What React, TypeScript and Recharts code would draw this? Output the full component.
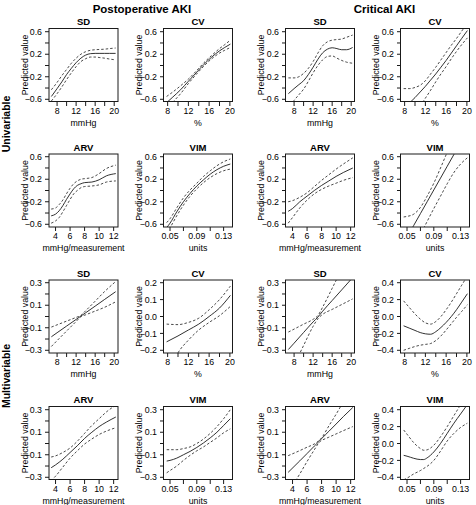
import React from 'react';
import { LineChart, Line, XAxis, YAxis } from 'recharts';

const FONT = '"Liberation Sans", Arial, Helvetica, sans-serif';
const INK = '#1a1a1a';

// ---------- Postoperative AKI, univariable ----------
const puSD_x = [6.8, 8, 9, 10, 11, 12, 13, 14, 15, 16, 17, 18, 19, 20.3];
const puSD_fit = [-0.55, -0.41, -0.29, -0.16, -0.05, 0.05, 0.13, 0.185, 0.21, 0.215, 0.215, 0.215, 0.215, 0.215];
const puSD_hi = [-0.43, -0.3, -0.18, -0.07, 0.04, 0.13, 0.2, 0.245, 0.27, 0.28, 0.285, 0.29, 0.3, 0.31];
const puSD_lo = [-0.63, -0.5, -0.38, -0.25, -0.13, -0.02, 0.07, 0.12, 0.15, 0.15, 0.14, 0.13, 0.115, 0.1];

const puCV_x = [7.8, 9, 10.5, 12, 13.5, 15, 16.5, 18, 19, 20.1];
const puCV_fit = [-0.66, -0.56, -0.43, -0.28, -0.13, 0.02, 0.15, 0.26, 0.32, 0.38];
const puCV_hi = [-0.55, -0.47, -0.36, -0.24, -0.1, 0.05, 0.18, 0.3, 0.37, 0.45];
const puCV_lo = [-0.77, -0.65, -0.5, -0.32, -0.16, -0.01, 0.12, 0.22, 0.27, 0.32];

const puARV_x = [3.4, 4, 4.5, 5, 5.5, 6, 6.5, 7, 7.5, 8, 9, 10, 11, 12.3];
const puARV_fit = [-0.45, -0.42, -0.36, -0.27, -0.16, -0.06, 0.03, 0.09, 0.12, 0.14, 0.15, 0.19, 0.26, 0.3];
const puARV_hi = [-0.33, -0.31, -0.25, -0.17, -0.06, 0.04, 0.12, 0.17, 0.2, 0.21, 0.23, 0.3, 0.39, 0.45];
const puARV_lo = [-0.58, -0.54, -0.48, -0.38, -0.27, -0.16, -0.06, 0.0, 0.05, 0.07, 0.08, 0.1, 0.15, 0.17];

const puVIM_x = [0.045, 0.05, 0.06, 0.07, 0.08, 0.09, 0.1, 0.11, 0.12, 0.13, 0.14];
const puVIM_fit = [-0.66, -0.58, -0.38, -0.2, -0.05, 0.08, 0.19, 0.29, 0.37, 0.43, 0.47];
const puVIM_hi = [-0.57, -0.5, -0.31, -0.13, 0.01, 0.13, 0.25, 0.35, 0.44, 0.51, 0.56];
const puVIM_lo = [-0.75, -0.66, -0.45, -0.26, -0.1, 0.03, 0.14, 0.23, 0.3, 0.35, 0.38];

// ---------- Critical AKI, univariable ----------
const cuSD_x = [6.8, 8, 9, 10, 11, 12, 13, 14, 15, 16, 17, 18, 19, 20.3];
const cuSD_fit = [-0.5, -0.41, -0.34, -0.27, -0.16, -0.03, 0.11, 0.225, 0.29, 0.315, 0.3, 0.28, 0.28, 0.32];
const cuSD_hi = [-0.22, -0.22, -0.2, -0.14, -0.05, 0.07, 0.22, 0.35, 0.42, 0.45, 0.46, 0.47, 0.5, 0.54];
const cuSD_lo = [-0.78, -0.62, -0.52, -0.42, -0.28, -0.13, 0.0, 0.1, 0.16, 0.17, 0.13, 0.09, 0.06, 0.04];

const cuCV_x = [7.8, 9, 10, 11, 12, 13, 14, 15, 16, 17, 18, 19, 20.1];
const cuCV_fit = [-0.76, -0.66, -0.57, -0.47, -0.37, -0.26, -0.15, -0.03, 0.09, 0.22, 0.35, 0.48, 0.62];
const cuCV_hi = [-0.41, -0.41, -0.39, -0.35, -0.27, -0.15, -0.03, 0.1, 0.23, 0.36, 0.48, 0.61, 0.75];
const cuCV_lo = [-1.1, -0.96, -0.84, -0.72, -0.58, -0.44, -0.29, -0.15, -0.02, 0.12, 0.25, 0.37, 0.49];

const cuARV_x = [3.4, 4, 5, 6, 7, 8, 9, 10, 11, 12.3];
const cuARV_fit = [-0.37, -0.32, -0.2, -0.1, 0.0, 0.09, 0.17, 0.25, 0.32, 0.4];
const cuARV_hi = [-0.2, -0.18, -0.12, -0.04, 0.07, 0.18, 0.28, 0.38, 0.47, 0.58];
const cuARV_lo = [-0.58, -0.48, -0.31, -0.17, -0.06, 0.02, 0.08, 0.13, 0.18, 0.23];

const cuVIM_x = [0.045, 0.05, 0.06, 0.07, 0.08, 0.09, 0.1, 0.11, 0.12, 0.13, 0.14];
const cuVIM_fit = [-0.94, -0.83, -0.62, -0.41, -0.2, 0.01, 0.22, 0.43, 0.64, 0.85, 1.05];
const cuVIM_hi = [-0.47, -0.46, -0.42, -0.3, -0.1, 0.13, 0.4, 0.68, 0.95, 1.2, 1.45];
const cuVIM_lo = [-1.3, -1.2, -1.0, -0.78, -0.55, -0.32, -0.1, 0.12, 0.32, 0.47, 0.58];

// ---------- Postoperative AKI, multivariable ----------
const pmSD_x = [6.8, 8, 10, 12, 13, 14, 16, 18, 20.3];
const pmSD_fit = [-0.18, -0.144, -0.085, -0.026, 0.004, 0.033, 0.092, 0.152, 0.22];
const pmSD_hi = [-0.094, -0.074, -0.041, -0.008, 0.01, 0.051, 0.136, 0.222, 0.31];
const pmSD_lo = [-0.266, -0.214, -0.129, -0.044, -0.002, 0.015, 0.048, 0.082, 0.13];

const pmCV_x = [7.8, 10, 12, 14, 16, 18, 20.1];
const pmCV_fit = [-0.15, -0.115, -0.08, -0.045, 0.0, 0.05, 0.125];
const pmCV_hi = [-0.045, -0.048, -0.035, -0.01, 0.04, 0.1, 0.18];
const pmCV_lo = [-0.36, -0.215, -0.14, -0.08, -0.035, 0.005, 0.06];

const pmARV_x = [3.4, 4, 5, 6, 7, 8, 9, 10, 11, 12.3];
const pmARV_fit = [-0.215, -0.19, -0.14, -0.08, -0.02, 0.045, 0.1, 0.15, 0.19, 0.235];
const pmARV_hi = [-0.12, -0.11, -0.08, -0.04, 0.02, 0.09, 0.16, 0.22, 0.28, 0.34];
const pmARV_lo = [-0.33, -0.29, -0.21, -0.13, -0.065, -0.005, 0.04, 0.08, 0.11, 0.14];

const pmVIM_x = [0.045, 0.05, 0.06, 0.07, 0.08, 0.09, 0.1, 0.11, 0.12, 0.13, 0.14];
const pmVIM_fit = [-0.156, -0.15, -0.13, -0.1, -0.07, -0.035, 0.005, 0.05, 0.1, 0.16, 0.22];
const pmVIM_hi = [-0.055, -0.055, -0.055, -0.045, -0.03, 0.0, 0.04, 0.09, 0.15, 0.22, 0.3];
const pmVIM_lo = [-0.26, -0.24, -0.2, -0.15, -0.105, -0.065, -0.03, 0.01, 0.05, 0.095, 0.13];

// ---------- Critical AKI, multivariable ----------
const cmSD_x = [6.8, 8, 10, 12, 13, 14, 16, 18, 20.3];
const cmSD_fit = [-0.293, -0.237, -0.142, -0.048, -0.005, 0.047, 0.142, 0.236, 0.345];
const cmSD_hi = [-0.138, -0.112, -0.068, -0.025, 0.008, 0.083, 0.25, 0.42, 0.61];
const cmSD_lo = [-0.53, -0.43, -0.257, -0.087, -0.02, 0.019, 0.063, 0.106, 0.156];

const cmCV_x = [7.8, 9, 10, 11, 12, 13, 14, 15, 16, 17, 18, 19, 20.1];
const cmCV_fit = [-0.11, -0.14, -0.165, -0.19, -0.205, -0.21, -0.18, -0.13, -0.07, 0.0, 0.08, 0.17, 0.27];
const cmCV_hi = [0.185, 0.1, 0.03, -0.03, -0.075, -0.09, -0.06, 0.0, 0.08, 0.17, 0.27, 0.37, 0.48];
const cmCV_lo = [-0.4, -0.375, -0.355, -0.34, -0.33, -0.32, -0.285, -0.23, -0.16, -0.085, -0.01, 0.06, 0.14];

const cmARV_x = [3.4, 5, 6, 7, 7.7, 8, 9, 10, 11, 12.3];
const cmARV_fit = [-0.256, -0.154, -0.089, -0.023, 0.022, 0.043, 0.108, 0.173, 0.239, 0.32];
const cmARV_hi = [-0.108, -0.063, -0.033, -0.004, 0.03, 0.05, 0.156, 0.26, 0.37, 0.5];
const cmARV_lo = [-0.43, -0.27, -0.16, -0.056, 0.012, 0.026, 0.056, 0.085, 0.114, 0.15];

const cmVIM_x = [0.045, 0.05, 0.06, 0.07, 0.075, 0.08, 0.09, 0.1, 0.11, 0.12, 0.13, 0.14];
const cmVIM_fit = [-0.14, -0.15, -0.175, -0.19, -0.19, -0.17, -0.1, 0.0, 0.12, 0.24, 0.35, 0.46];
const cmVIM_hi = [0.16, 0.11, 0.01, -0.06, -0.08, -0.075, -0.02, 0.08, 0.2, 0.33, 0.46, 0.6];
const cmVIM_lo = [-0.43, -0.41, -0.36, -0.32, -0.295, -0.27, -0.2, -0.09, 0.03, 0.12, 0.19, 0.24];

// ---------- ticks ----------
const mmHgTicks = [8, 10, 12, 14, 16, 18, 20];
const mmHgLabels = [8, 12, 16, 20];
const arvTicks = [4, 6, 8, 10, 12];
const vimTicks = [0.05, 0.07, 0.09, 0.11, 0.13];
const vimLabels = [0.05, 0.09, 0.13];
const y06Ticks = [-0.6, -0.4, -0.2, 0, 0.2, 0.4, 0.6];
const y06Labels = [-0.6, -0.2, 0.2, 0.6];
const y03Ticks = [-0.3, -0.2, -0.1, 0, 0.1, 0.2, 0.3];
const y03Labels = [-0.3, -0.1, 0.1, 0.3];
const y02Ticks = [-0.2, -0.1, 0, 0.1, 0.2];
const y04Ticks = [-0.4, -0.2, 0, 0.2, 0.4];

interface AxisSpec {
  domain: [number, number];
  ticks: number[];
  labels: number[];
  digits: number;
}

const axSD: AxisSpec = { domain: [6.3, 20.8], ticks: mmHgTicks, labels: mmHgLabels, digits: 0 };
const axCV: AxisSpec = { domain: [7.3, 20.6], ticks: mmHgTicks, labels: mmHgLabels, digits: 0 };
const axARV: AxisSpec = { domain: [3.1, 12.6], ticks: arvTicks, labels: arvTicks, digits: 0 };
const axVIM: AxisSpec = { domain: [0.041, 0.144], ticks: vimTicks, labels: vimLabels, digits: 2 };
const ay06: AxisSpec = { domain: [-0.648, 0.648], ticks: y06Ticks, labels: y06Labels, digits: 1 };
const ay03: AxisSpec = { domain: [-0.324, 0.324], ticks: y03Ticks, labels: y03Labels, digits: 1 };
const ay02: AxisSpec = { domain: [-0.216, 0.216], ticks: y02Ticks, labels: y02Ticks, digits: 1 };
const ay04: AxisSpec = { domain: [-0.432, 0.432], ticks: y04Ticks, labels: y04Ticks, digits: 1 };

const fmt = (spec: AxisSpec) => (v: number) =>
  spec.labels.some((l) => Math.abs(l - v) < 1e-9)
    ? (Math.abs(v) < 1e-9 ? 0 : v).toFixed(spec.digits).replace('-', '\u2212')
    : '';

// ---------- layout ----------
const colLeft = [49, 163.5, 285.5, 400.5];
const rowTop = [28.5, 154, 280, 406.5];
const BOX_W = 69;
const BOX_H = 73;
const PAD_L = 48;
const PAD_T = 28;
const PAD_B = 28;
const PAD_R = 4;

interface PanelSpec {
  title: string;
  unit: string;
  row: number;
  col: number;
  x: number[];
  fit: number[];
  lo: number[];
  hi: number[];
  xa: AxisSpec;
  ya: AxisSpec;
}

const panels: PanelSpec[] = [
  { title: 'SD', unit: 'mmHg', row: 0, col: 0, x: puSD_x, fit: puSD_fit, lo: puSD_lo, hi: puSD_hi, xa: axSD, ya: ay06 },
  { title: 'CV', unit: '%', row: 0, col: 1, x: puCV_x, fit: puCV_fit, lo: puCV_lo, hi: puCV_hi, xa: axCV, ya: ay06 },
  { title: 'SD', unit: 'mmHg', row: 0, col: 2, x: cuSD_x, fit: cuSD_fit, lo: cuSD_lo, hi: cuSD_hi, xa: axSD, ya: ay06 },
  { title: 'CV', unit: '%', row: 0, col: 3, x: cuCV_x, fit: cuCV_fit, lo: cuCV_lo, hi: cuCV_hi, xa: axCV, ya: ay06 },
  { title: 'ARV', unit: 'mmHg/measurement', row: 1, col: 0, x: puARV_x, fit: puARV_fit, lo: puARV_lo, hi: puARV_hi, xa: axARV, ya: ay06 },
  { title: 'VIM', unit: 'units', row: 1, col: 1, x: puVIM_x, fit: puVIM_fit, lo: puVIM_lo, hi: puVIM_hi, xa: axVIM, ya: ay06 },
  { title: 'ARV', unit: 'mmHg/measurement', row: 1, col: 2, x: cuARV_x, fit: cuARV_fit, lo: cuARV_lo, hi: cuARV_hi, xa: axARV, ya: ay06 },
  { title: 'VIM', unit: 'units', row: 1, col: 3, x: cuVIM_x, fit: cuVIM_fit, lo: cuVIM_lo, hi: cuVIM_hi, xa: axVIM, ya: ay06 },
  { title: 'SD', unit: 'mmHg', row: 2, col: 0, x: pmSD_x, fit: pmSD_fit, lo: pmSD_lo, hi: pmSD_hi, xa: axSD, ya: ay03 },
  { title: 'CV', unit: '%', row: 2, col: 1, x: pmCV_x, fit: pmCV_fit, lo: pmCV_lo, hi: pmCV_hi, xa: axCV, ya: ay02 },
  { title: 'SD', unit: 'mmHg', row: 2, col: 2, x: cmSD_x, fit: cmSD_fit, lo: cmSD_lo, hi: cmSD_hi, xa: axSD, ya: ay03 },
  { title: 'CV', unit: '%', row: 2, col: 3, x: cmCV_x, fit: cmCV_fit, lo: cmCV_lo, hi: cmCV_hi, xa: axCV, ya: ay04 },
  { title: 'ARV', unit: 'mmHg/measurement', row: 3, col: 0, x: pmARV_x, fit: pmARV_fit, lo: pmARV_lo, hi: pmARV_hi, xa: axARV, ya: ay03 },
  { title: 'VIM', unit: 'units', row: 3, col: 1, x: pmVIM_x, fit: pmVIM_fit, lo: pmVIM_lo, hi: pmVIM_hi, xa: axVIM, ya: ay03 },
  { title: 'ARV', unit: 'mmHg/measurement', row: 3, col: 2, x: cmARV_x, fit: cmARV_fit, lo: cmARV_lo, hi: cmARV_hi, xa: axARV, ya: ay03 },
  { title: 'VIM', unit: 'units', row: 3, col: 3, x: cmVIM_x, fit: cmVIM_fit, lo: cmVIM_lo, hi: cmVIM_hi, xa: axVIM, ya: ay04 },
];

const tickStyle = { fontSize: 8.8, fill: '#000', fontFamily: FONT };

const Panel: React.FC<{ p: PanelSpec }> = ({ p }) => {
  const data = p.x.map((x, i) => ({ x, fit: p.fit[i], lo: p.lo[i], hi: p.hi[i] }));
  const left = colLeft[p.col] - PAD_L;
  const top = rowTop[p.row] - PAD_T;
  return (
    <div style={{ position: 'absolute', left, top }}>
      <LineChart
        width={PAD_L + BOX_W + PAD_R}
        height={PAD_T + BOX_H + PAD_B}
        data={data}
        margin={{ top: PAD_T, right: PAD_R, bottom: 0, left: 0 }}
      >
        <XAxis
          type="number"
          dataKey="x"
          domain={p.xa.domain}
          ticks={p.xa.ticks}
          tickFormatter={fmt(p.xa)}
          allowDataOverflow
          interval={0}
          axisLine={false}
          tickLine={{ stroke: INK }}
          tickSize={4}
          tickMargin={2}
          height={PAD_B}
          tick={tickStyle}
        />
        <YAxis
          type="number"
          domain={p.ya.domain}
          ticks={p.ya.ticks}
          tickFormatter={fmt(p.ya)}
          allowDataOverflow
          interval={0}
          axisLine={false}
          tickLine={{ stroke: INK }}
          tickSize={4}
          tickMargin={3}
          width={PAD_L}
          tick={tickStyle}
        />
        <Line type="monotone" dataKey="hi" stroke={INK} strokeWidth={0.8} strokeDasharray="2.5 2" dot={false} activeDot={false} isAnimationActive={false} />
        <Line type="monotone" dataKey="lo" stroke={INK} strokeWidth={0.8} strokeDasharray="2.5 2" dot={false} activeDot={false} isAnimationActive={false} />
        <Line type="monotone" dataKey="fit" stroke={INK} strokeWidth={0.9} dot={false} activeDot={false} isAnimationActive={false} />
      </LineChart>
    </div>
  );
};

const App: React.FC = () => {
  return (
    <div style={{ position: 'absolute', left: 0, top: 0, width: 476, height: 505, background: '#fff', fontFamily: FONT, overflow: 'hidden' }}>
      {panels.map((p, i) => (
        <Panel key={i} p={p} />
      ))}
      <svg width={476} height={505} style={{ position: 'absolute', left: 0, top: 0, pointerEvents: 'none' }} fontFamily={FONT}>
        <text x={142} y={8.5} textAnchor="middle" dominantBaseline="central" fontSize={11.5} fontWeight="bold" fill="#000">
          Postoperative AKI
        </text>
        <text x={384.5} y={8.5} textAnchor="middle" dominantBaseline="central" fontSize={11.5} fontWeight="bold" fill="#000">
          Critical AKI
        </text>
        <text transform="translate(6,124) rotate(-90)" textAnchor="middle" dominantBaseline="central" fontSize={10.5} fontWeight="bold" fill="#000">
          Univariable
        </text>
        <text transform="translate(6,376) rotate(-90)" textAnchor="middle" dominantBaseline="central" fontSize={10.5} fontWeight="bold" fill="#000">
          Multivariable
        </text>
        {panels.map((p, i) => {
          const bx = colLeft[p.col];
          const by = rowTop[p.row];
          return (
            <g key={i}>
              <rect x={bx} y={by} width={BOX_W} height={BOX_H} fill="none" stroke={INK} strokeWidth={1} />
              <text x={bx + BOX_W / 2} y={by - 7} textAnchor="middle" dominantBaseline="central" fontSize={9.5} fontWeight="bold" fill="#000">
                {p.title}
              </text>
              <text x={bx + BOX_W / 2} y={by + BOX_H + 21} textAnchor="middle" dominantBaseline="central" fontSize={8.8} fill="#000">
                {p.unit}
              </text>
              <text
                transform={`translate(${bx - 24.5},${by + BOX_H / 2}) rotate(-90)`}
                textAnchor="middle"
                dominantBaseline="central"
                fontSize={8.8}
                fill="#000"
              >
                Predicted value
              </text>
            </g>
          );
        })}
      </svg>
    </div>
  );
};

export default App;
